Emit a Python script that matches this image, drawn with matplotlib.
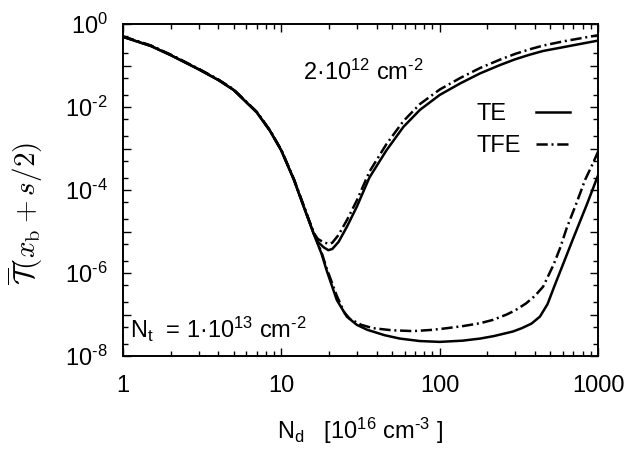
import matplotlib as mpl
mpl.use('Agg')
mpl.rcParams['font.family'] = 'Liberation Sans'
mpl.rcParams['font.size'] = 17
mpl.rcParams['mathtext.fontset'] = 'custom'
mpl.rcParams['mathtext.rm'] = 'Liberation Sans'
mpl.rcParams['mathtext.it'] = 'Liberation Sans:italic'
mpl.rcParams['mathtext.bf'] = 'Liberation Sans:bold'
mpl.rcParams['mathtext.sf'] = 'Liberation Sans'
import matplotlib.pyplot as plt
import matplotlib.ticker as ticker
import numpy as np

# N_d in 1e16 cm^-3, curves given as log10 of T(x_b + s/2)
nd_te_2e12 = [1, 1.5, 2, 3, 4, 5, 7, 8.5, 10, 12, 14, 16, 17, 18.5, 19.8, 21, 23,
              26, 30, 36, 46, 59, 75, 100, 135, 180, 240, 300, 370, 450, 600, 1000]
lt_te_2e12 = [-0.31, -0.53, -0.75, -1.09, -1.35, -1.59, -2.13, -2.58, -3.05, -3.75,
              -4.45, -5.05, -5.25, -5.38, -5.45, -5.42, -5.25, -4.88, -4.40, -3.70,
              -3.05, -2.48, -2.07, -1.71, -1.43, -1.19, -0.99, -0.85, -0.74, -0.65,
              -0.56, -0.40]

nd_tfe_2e12 = [1, 1.5, 2, 3, 4, 5, 7, 8.5, 10, 12, 14, 16, 17, 18.5, 20, 21, 23,
               26, 30, 36, 46, 59, 75, 100, 135, 180, 240, 300, 370, 450, 600, 1000]
lt_tfe_2e12 = [-0.30, -0.52, -0.74, -1.08, -1.34, -1.58, -2.12, -2.57, -3.04, -3.74,
               -4.43, -5.03, -5.18, -5.26, -5.30, -5.27, -5.08, -4.72, -4.25, -3.56,
               -2.90, -2.34, -1.93, -1.58, -1.30, -1.06, -0.86, -0.72, -0.61, -0.52,
               -0.42, -0.27]

nd_te_1e13 = [1, 1.5, 2, 3, 4, 5, 7, 8.5, 10, 12, 14, 16, 18, 19.3, 22.4, 25.9, 30,
              35, 45, 56, 75, 100, 140, 180, 220, 290, 330, 380, 430, 480, 530, 600,
              700, 850, 1000]
lt_te_1e13 = [-0.31, -0.53, -0.75, -1.09, -1.35, -1.59, -2.13, -2.58, -3.05, -3.75,
              -4.45, -5.05, -5.55, -5.93, -6.65, -7.05, -7.25, -7.37, -7.50, -7.58,
              -7.64, -7.66, -7.63, -7.58, -7.52, -7.41, -7.33, -7.22, -7.05, -6.75,
              -6.32, -5.80, -5.15, -4.35, -3.65]

nd_tfe_1e13 = [1, 1.5, 2, 3, 4, 5, 7, 8.5, 10, 12, 14, 16, 18, 19.3, 22.4, 25, 27,
               32, 38, 50, 68, 90, 111, 140, 180, 217, 265, 300, 352, 400, 450, 524,
               576, 634, 734, 830, 931, 1000]
lt_tfe_1e13 = [-0.30, -0.52, -0.74, -1.08, -1.34, -1.58, -2.12, -2.57, -3.04, -3.74,
               -4.43, -5.03, -5.52, -5.88, -6.55, -6.95, -7.10, -7.25, -7.33, -7.38,
               -7.40, -7.37, -7.33, -7.28, -7.21, -7.13, -7.00, -6.90, -6.73, -6.55,
               -6.33, -5.80, -5.40, -4.92, -4.30, -3.75, -3.35, -3.08]

DASHDOT = (0, (4.5, 1.5, 0.8, 1.5))
HY = '\u2010'

fig = plt.figure(figsize=(6.27, 4.57), dpi=100)
ax = fig.add_axes([123/627, 1-356/457, 475/627, 332/457])

for nd, lt, ls in [(nd_te_2e12, lt_te_2e12, '-'), (nd_tfe_2e12, lt_tfe_2e12, DASHDOT),
                   (nd_te_1e13, lt_te_1e13, '-'), (nd_tfe_1e13, lt_tfe_1e13, DASHDOT)]:
    ax.plot(nd, 10.0**np.asarray(lt), color='black', linestyle=ls, linewidth=1.8)

ax.set_xscale('log')
ax.set_yscale('log')
ax.set_xlim(1, 1000)
ax.set_ylim(1e-8, 1)

ax.xaxis.set_major_locator(ticker.FixedLocator([1, 10, 100, 1000]))
ax.xaxis.set_major_formatter(ticker.FixedFormatter(['1', '10', '100', '1000']))
ax.xaxis.set_minor_locator(ticker.LogLocator(base=10, subs=np.arange(2, 10), numticks=20))
ax.xaxis.set_minor_formatter(ticker.NullFormatter())


def ylab(v, p):
    k = int(round(np.log10(v)))
    if k % 2:
        return ''
    return r'10$^{%s}$' % (str(k).replace('-', HY))


ax.yaxis.set_major_locator(ticker.FixedLocator([10.0**k for k in range(-8, 1)]))
ax.yaxis.set_major_formatter(ticker.FuncFormatter(ylab))
ax.yaxis.set_minor_locator(ticker.LogLocator(base=10, subs=[2, 5], numticks=20))
ax.yaxis.set_minor_formatter(ticker.NullFormatter())

ax.tick_params(which='both', direction='in', top=True, right=True, width=1)
ax.tick_params(which='major', length=6)
ax.tick_params(which='minor', length=3.5)
ax.tick_params(axis='x', which='major', pad=14)
ax.tick_params(axis='y', which='major', pad=11)
for s in ax.spines.values():
    s.set_linewidth(1.4)

ax.set_xlabel(r'N$_\mathrm{d}$   [10$^{16}$ cm$^{%s3}$ ]' % HY, labelpad=13)
ax.set_ylabel(r'$\overline{\mathcal{T}}(x_\mathrm{b}+s/2)$', math_fontfamily='cm', fontsize=21)
ax.yaxis.set_label_coords(-0.165, 0.43)

ax.text(0.379, 0.831, r'2·10$^{12}$ cm$^{%s2}$' % HY, transform=ax.transAxes)
ax.text(0.0147, 0.054, r'N$_\mathrm{t}$  = 1·10$^{13}$ cm$^{%s2}$' % HY, transform=ax.transAxes)

# legend keys
ax.text(0.744, 0.711, 'TE', transform=ax.transAxes)
ax.text(0.744, 0.614, 'TFE', transform=ax.transAxes)
ax.plot([0.869, 0.941], [0.735, 0.735], transform=ax.transAxes, color='black', linewidth=1.8)
ax.plot([0.869, 0.941], [0.6386, 0.6386], transform=ax.transAxes, color='black',
        linewidth=1.8, linestyle=DASHDOT)

fig.savefig('out.png', dpi=100)
